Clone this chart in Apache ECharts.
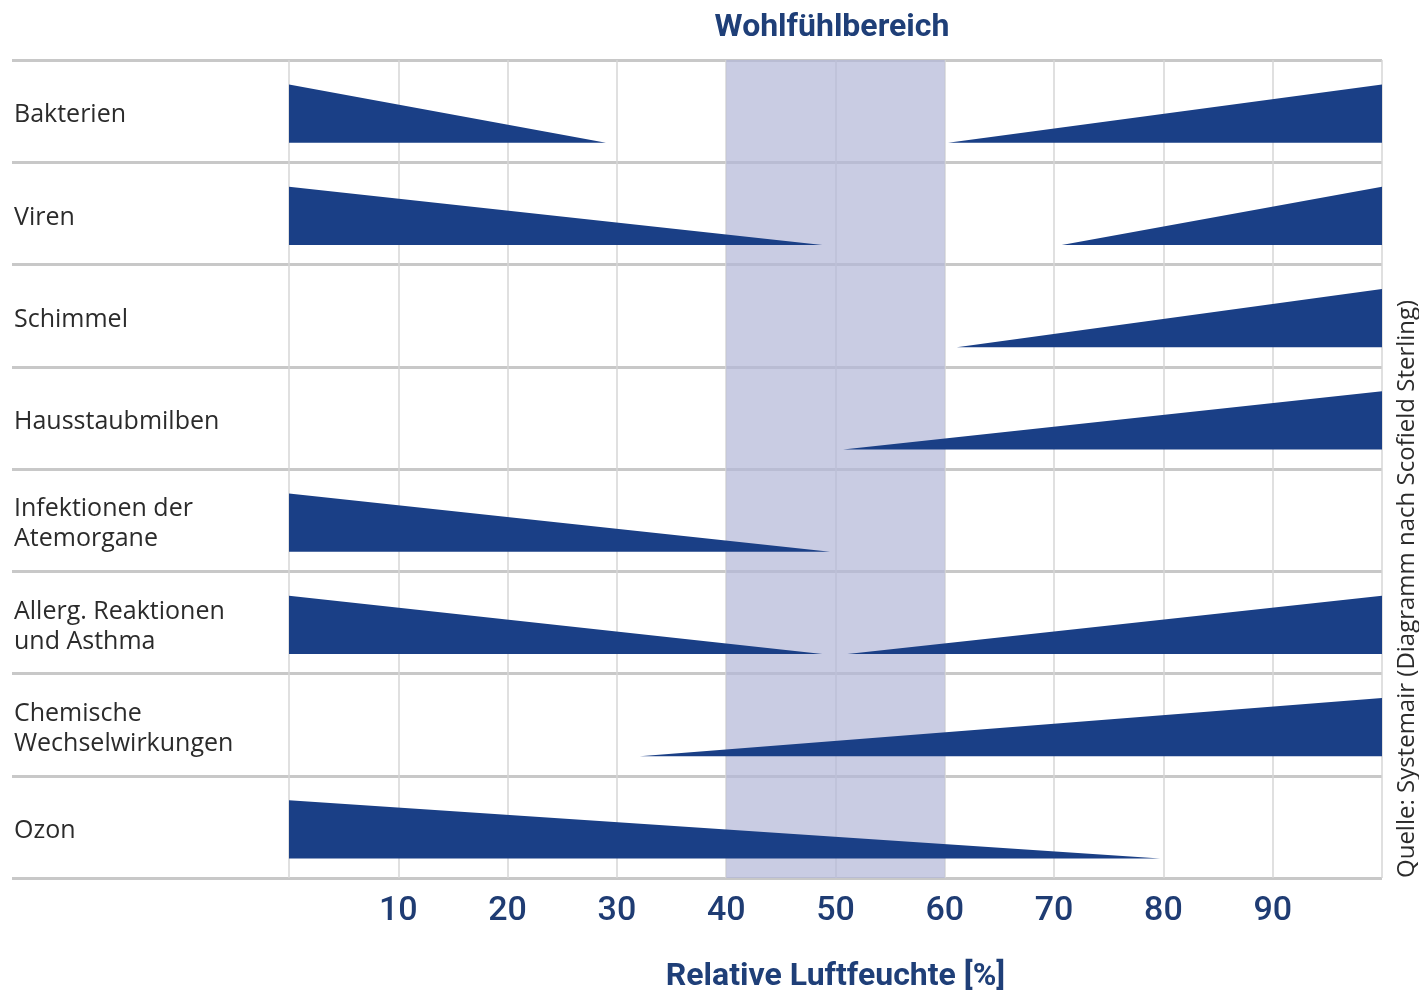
<!DOCTYPE html>
<html>
<head>
<meta charset="utf-8">
<script src="https://cdn.jsdelivr.net/npm/echarts@6/dist/echarts.min.js"></script>
<style>html,body{margin:0;padding:0;background:#fff}#c{width:1419px;height:992px}</style>
</head>
<body>
<div id="c"></div>
<script>
// ---- data ----
const categories = ['Bakterien', 'Viren', 'Schimmel', 'Hausstaubmilben', 'Infektionen der\nAtemorgane', 'Allerg. Reaktionen\nund Asthma', 'Chemische\nWechselwirkungen', 'Ozon'];
// left triangle: full height at 0 %, tapering to zero at leftEnd
const leftEnd = [29, 48.8, null, null, 49.5, 48.8, null, 79.7];
// right triangle: zero height at rightStart, full height at 100 %
const rightStart = [60.3, 70.7, 61.1, 50.7, null, 51.1, 32.1, null];
const comfortZone = [40, 60];
const xTicks = [0, 10, 20, 30, 40, 50, 60, 70, 80, 90, 100];
const titleText = 'Wohlfühlbereich';
const axisTitle = 'Relative Luftfeuchte [%]';
const sourceText = 'Quelle: Systemair (Diagramm nach Scofield Sterling)';

const X_MIN = xTicks[0], X_MAX = xTicks[xTicks.length - 1];
const triData = [];
categories.forEach((c, i) => {
  if (leftEnd[i] != null) triData.push([i, X_MIN, leftEnd[i], 0]);
  if (rightStart[i] != null) triData.push([i, rightStart[i], X_MAX, 1]);
});

const NAVY = '#1a3f86';
const chart = echarts.init(document.getElementById('c'));
chart.setOption({
  animation: false,
  backgroundColor: '#fff',
  title: {
    text: titleText, left: 827, top: 7, textAlign: 'center',
    textStyle: { fontFamily: 'Roboto', fontWeight: 'bold', fontSize: 32, color: '#1f3f78' }
  },
  grid: [
    { left: 289, right: 37, top: 60, bottom: 114, outerBoundsMode: 'none', containLabel: false },
    { left: 12, right: 37, top: 60, bottom: 114, outerBoundsMode: 'none', containLabel: false },
    { left: 289, right: 37, top: 64, bottom: 110, outerBoundsMode: 'none', containLabel: false }
  ],
  xAxis: [
    {
      type: 'value', gridIndex: 0, min: X_MIN, max: X_MAX, interval: 10,
      axisLine: { show: false }, axisTick: { show: false },
      splitLine: { show: true, lineStyle: { color: '#d6d6d6', width: 1.5 } },
      axisLabel: {
        showMinLabel: false, showMaxLabel: false, margin: 16,
        fontFamily: 'Roboto', fontWeight: 500, fontSize: 34, color: '#1f3c73'
      },
      name: axisTitle, nameLocation: 'middle', nameGap: 83,
      nameTextStyle: { fontFamily: 'Roboto', fontWeight: 'bold', fontSize: 32, color: '#1f3f78' }
    },
    { type: 'value', gridIndex: 1, min: 0, max: 1, show: false },
    { type: 'value', gridIndex: 2, min: 0, max: 1, show: false }
  ],
  yAxis: [
    {
      type: 'category', gridIndex: 0, data: categories, inverse: true,
      axisLine: { show: false }, axisTick: { show: false }, splitLine: { show: false },
      axisLabel: { show: false }
    },
    {
      type: 'value', gridIndex: 1, min: 0, max: categories.length, interval: 1,
      axisLine: { show: false }, axisTick: { show: false }, axisLabel: { show: false },
      splitLine: { show: true, lineStyle: { color: '#c8c8c8', width: 3 } }
    },
    {
      type: 'category', gridIndex: 2, data: categories, inverse: true,
      axisLine: { show: false }, axisTick: { show: false }, splitLine: { show: false },
      axisLabel: {
        align: 'left', margin: 275,
        fontFamily: 'Open Sans', fontSize: 25, lineHeight: 30, color: '#2b2b2b'
      }
    }
  ],
  series: [
    {
      type: 'line', xAxisIndex: 0, yAxisIndex: 0, data: [], z: 1, silent: true,
      markArea: {
        silent: true,
        itemStyle: { color: 'rgba(178,183,215,0.7)' },
        data: [[{ xAxis: comfortZone[0] }, { xAxis: comfortZone[1] }]]
      }
    },
    {
      type: 'custom', xAxisIndex: 0, yAxisIndex: 0, z: 3, data: triData,
      renderItem: function (params, api) {
        const row = api.value(0), x0 = api.value(1), x1 = api.value(2), side = api.value(3);
        const c = api.coord([x0, row]);
        const pb = api.coord([x1, row])[0];
        const h = api.size([0, 1])[1];
        const yTop = c[1] - 0.26 * h, yBot = c[1] + 0.31 * h;
        const pa = c[0];
        const pts = side === 0
          ? [[pa, yBot], [pa, yTop], [pb, yBot]]
          : [[pa, yBot], [pb, yTop], [pb, yBot]];
        return { type: 'polygon', shape: { points: pts }, style: { fill: NAVY } };
      }
    }
  ],
  graphic: [
    {
      type: 'text', x: 1407, y: 878, rotation: Math.PI / 2,
      style: { text: sourceText, fontFamily: 'Open Sans', fontSize: 24, fill: '#2b2b2b', align: 'left', verticalAlign: 'middle' }
    }
  ]
});
</script>
</body>
</html>
